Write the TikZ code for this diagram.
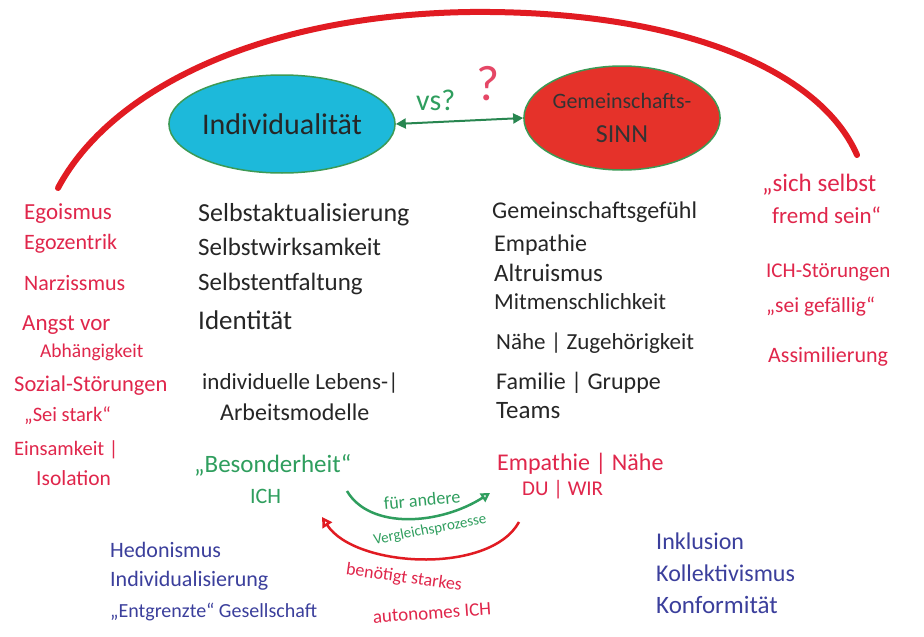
\documentclass[tikz,border=0pt]{standalone}
\usepackage{fontspec}
\setmainfont{Carlito}
\usetikzlibrary{shapes.geometric,arrows.meta}
\definecolor{arcred}{HTML}{E11B22}
\definecolor{txtred}{HTML}{E0264B}
\definecolor{txtblue}{HTML}{3B3F9C}
\definecolor{txtgreen}{HTML}{2F9E5E}
\definecolor{cyanfill}{HTML}{1DB9DA}
\definecolor{redfill}{HTML}{E5322A}
\definecolor{ringgreen}{HTML}{3C9A55}
\newcommand{\fsz}[1]{\fontsize{#1}{#1}\selectfont}
\tikzset{
  lbl/.style={anchor=west, inner sep=0pt, font=\fsz{22}},
  blk/.style={lbl, text=black!85},
  rdt/.style={lbl, text=txtred},
  blt/.style={lbl, text=txtblue},
  grt/.style={lbl, text=txtgreen},
  bubble/.style={ellipse, draw=ringgreen, line width=1.5pt, inner sep=0pt},
  curvlbl/.style={inner sep=0pt},
}
\begin{document}
\begin{tikzpicture}[x=1pt,y=-1pt]
\useasboundingbox (0,0) rectangle (924,637);
\fill[white] (0,0) rectangle (924,637);
% big arc
\coordinate (arcL) at (58,188);
\coordinate (arcT) at (470,12);
\coordinate (arcR) at (857,155);
\draw[arcred, line width=6pt, line cap=round] (arcL) .. controls (110,90) and (260,15) .. (arcT) .. controls (680,10) and (820,70) .. (arcR);
% bubbles
\node[bubble, fill=cyanfill, minimum width=192pt, minimum height=98pt] (ind) at (282,124) {\fsz{30}\color{black!85}Individualität};
\node[bubble, fill=redfill, minimum width=192pt, minimum height=104pt, align=center] (gem) at (622,118) {\fsz{22}\color{black!80}Gemeinschafts-\\[16pt]\fsz{26}\color{black!80}SINN};
\draw[txtgreen!85!black, line width=2pt, {Triangle[length=10pt,width=10pt]}-{Triangle[length=10pt,width=10pt]}] (ind.east) -- (gem.west);
\node[grt, font=\fsz{30}] (vs) at (416,100) {vs?};
\node[rdt, text=txtred!85, font=\fsz{50}] (qm) at (476,84) {?};
% left black
\node[blk, font=\fsz{26}] (b1) at (198,215) {Selbstaktualisierung};
\node[blk, font=\fsz{25}] (b2) at (198,247) {Selbstwirksamkeit};
\node[blk, font=\fsz{25}] (b3) at (198,284) {Selbstentfaltung};
\node[blk, font=\fsz{27}] (b4) at (198,320) {Identität};
\node[blk, font=\fsz{23}] (b5) at (202,383) {individuelle Lebens-|};
\node[blk, font=\fsz{24}] (b6) at (220,412) {Arbeitsmodelle};
% right black
\node[blk, font=\fsz{24}] (c1) at (492,212) {Gemeinschaftsgefühl};
\node[blk, font=\fsz{24}] (c2) at (494,245) {Empathie};
\node[blk, font=\fsz{25}] (c3) at (494,273) {Altruismus};
\node[blk, font=\fsz{23}] (c4) at (494,302) {Mitmenschlichkeit};
\node[blk, font=\fsz{23}] (c5) at (496,343) {Nähe | Zugehörigkeit};
\node[blk, font=\fsz{24}] (c6) at (496,383) {Familie | Gruppe};
\node[blk, font=\fsz{25}] (c7) at (496,411) {Teams};
% left red
\node[rdt, font=\fsz{23}] (l1) at (24,214) {Egoismus};
\node[rdt] (l2) at (24,244) {Egozentrik};
\node[rdt] (l3) at (24,283) {Narzissmus};
\node[rdt, font=\fsz{23}] (l4) at (22,325) {Angst vor};
\node[rdt, font=\fsz{19.5}] (l5) at (40,352) {Abhängigkeit};
\node[rdt, font=\fsz{22.5}] (l6) at (14,386) {Sozial-Störungen};
\node[rdt, font=\fsz{20.5}] (l7) at (24,416) {„Sei stark“};
\node[rdt, font=\fsz{20.5}] (l8) at (14,450) {Einsamkeit |};
\node[rdt, font=\fsz{21.5}] (l9) at (36,478) {Isolation};
% right red
\node[rdt, font=\fsz{25}] (r1) at (762,185) {„sich selbst};
\node[rdt, font=\fsz{23}] (r2) at (772,215) {fremd sein“};
\node[rdt, font=\fsz{21}] (r3) at (766,272) {ICH-Störungen};
\node[rdt, font=\fsz{21.5}] (r4) at (766,307) {„sei gefällig“};
\node[rdt, font=\fsz{22}] (r5) at (768,357) {Assimilierung};
% green / red centre
\node[grt, font=\fsz{25}] (g1) at (194,465) {„Besonderheit“};
\node[grt, font=\fsz{22}] (g2) at (250,496) {ICH};
\node[rdt, font=\fsz{24}] (e1) at (497,464) {Empathie | Nähe};
\node[rdt, font=\fsz{21}] (e2) at (522,490) {DU | WIR};
% curved arrows
\coordinate (ga) at (347,491);
\coordinate (gb) at (490,493);
\draw[txtgreen, line width=2.5pt, -{Triangle[open,length=9pt,width=10pt]}] (ga) .. controls (370,530) and (440,525) .. (gb);
\node[curvlbl, text=txtgreen, font=\fsz{18}, rotate=5] (fa) at (422,500) {für andere};
\node[curvlbl, text=txtgreen, font=\fsz{15}, rotate=11] (vp) at (430,530) {Vergleichsprozesse};
\coordinate (ra) at (519,522);
\coordinate (rb) at (322,517);
\draw[arcred, line width=2.5pt, -{Triangle[open,length=10pt,width=11pt]}] (ra) .. controls (490,575) and (355,568) .. (rb);
\node[curvlbl, text=txtred, font=\fsz{18}, rotate=-8] (bs) at (404,578) {benötigt starkes};
\node[curvlbl, text=txtred, font=\fsz{19}, rotate=4] (ai) at (432,613) {autonomes ICH};
% blue
\node[blt] (h1) at (110,550) {Hedonismus};
\node[blt] (h2) at (110,581) {Individualisierung};
\node[blt, font=\fsz{20}] (h3) at (110,612) {„Entgrenzte“ Gesellschaft};
\node[blt, font=\fsz{24}] (k1) at (656,541) {Inklusion};
\node[blt, font=\fsz{24}] (k2) at (656,573) {Kollektivismus};
\node[blt, font=\fsz{25}] (k3) at (656,605) {Konformität};
\end{tikzpicture}
\end{document}
